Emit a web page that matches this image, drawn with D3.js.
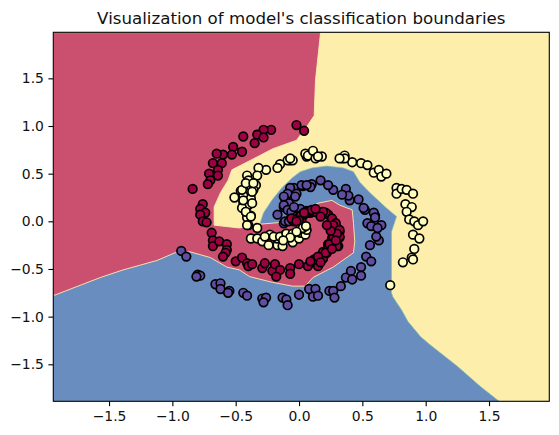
<!DOCTYPE html>
<html><head><meta charset="utf-8">
<script src="https://cdnjs.cloudflare.com/ajax/libs/d3/7.8.5/d3.min.js"></script>
<style>html,body{margin:0;padding:0;background:#fff}svg{display:block}</style>
</head><body><div id="c"></div>
<script>
const chartTitle = "Visualization of model's classification boundaries";
const xTicks = [-1.5,-1.0,-0.5,0,0.5,1.0,1.5];
const yTicks = [-1.5,-1.0,-0.5,0,0.5,1.0,1.5];
const xRange = [-1.94,1.976];
const yRange = [-1.888,1.983];

// decision regions (boundary vertices in data units)
const redRegion = [[-1.94,1.98],[.17,1.98],[.13,1.48],[.12,1.11],[.07,1.01],[-.02,.85],[-.21,.76],[-.31,.69],[-.53,.54],[-.56,.43],[-.62,.30],[-.67,.15],[-.67,-.04],[-.47,-.07],[-.31,-.03],[-.13,-.01],[-.03,.07],[.06,.14],[.15,.19],[.26,.22],[.32,.17],[.42,.12],[.43,-.02],[.44,-.21],[.43,-.33],[.27,-.48],[.11,-.59],[.05,-.68],[-.05,-.68],[-.21,-.64],[-.39,-.58],[-.47,-.51],[-.57,-.48],[-.70,-.38],[-.86,-.32],[-.98,-.33],[-1.12,-.41],[-1.39,-.51],[-1.57,-.59],[-1.94,-.78]];
const blueRegion = [[-1.94,-1.888],[1.58,-1.888],[1.43,-1.73],[1.25,-1.52],[1.03,-1.29],[.96,-1.21],[.86,-1.05],[.81,-.93],[.74,-.79],[.73,-.75],[.73,-.11],[.77,.05],[.69,.14],[.56,.30],[.48,.41],[.43,.52],[.35,.56],[.22,.58],[.10,.56],[.01,.52],[-.05,.46],[-.13,.36],[-.21,.23],[-.28,.09],[-.31,-.03],[-.23,-.14],[-1.94,-.40]];

// class points
const yellowPts = [[-.07,.64],[-.09,.64],[-.15,.60],[-.17,.56],[-.26,.54],[-.32,.56],[-.41,.48],[-.33,.48],[-.40,.43],[-.34,.38],[-.38,.37],[-.46,.32],[-.36,.33],[-.44,.27],[-.51,.25],[-.38,.24],[-.44,.20],[-.40,.17],[-.45,.14],[-.42,.10],[-.38,.06],[-.41,.04],[-.40,-.04],[.06,.68],[.05,.71],[-.05,.64],[-.07,.66],[.07,.69],[.11,.74],[.13,.66],[.18,.68],[.15,.68],[.34,.66],[.36,.69],[.42,.62],[.49,.61],[.54,.59],[.59,.51],[.63,.54],[.65,.47],[.69,.50],[.77,.35],[.77,.29],[.81,.34],[.85,.33],[.90,.29],[.84,.18],[.89,.15],[.85,.10],[.87,.02],[.91,0],[.94,-.04],[.98,0],[.90,-.14],[.95,-.18],[.91,-.29],[.89,-.38],[.82,-.43],[.90,-.40],[.72,-.67],[.36,.66],[.32,.66],[-.41,-.04],[-.33,-.07],[-.38,-.18],[-.33,-.18],[-.29,-.21],[-.24,-.25],[-.17,-.25],[-.13,-.26],[-.23,-.14],[-.17,-.18],[-.11,-.14],[-.05,-.22],[0,-.18],[.01,-.12],[.05,-.14],[.06,-.09],[-.06,-.14],[-.27,-.16],[-.20,-.16],[-.45,.33],[-.42,.40],[-.36,.40],[-.37,.31],[-.44,.22],[-.37,.19],[-.42,.10],[-.38,.05],[-.15,-.16],[-.10,-.13],[-.05,-.13],[.01,-.08],[.03,-.07],[.055,-.05],[-.02,-.11],[-.07,-.17],[-.125,-.20]];
const purplePts = [[-.93,-.31],[-.89,-.37],[-.80,-.56],[-.78,-.57],[-.81,-.58],[-.66,-.66],[-.62,-.65],[-.62,-.71],[-.55,-.73],[-.56,-.75],[-.44,-.75],[-.41,-.78],[-.29,-.81],[-.26,-.80],[-.28,-.85],[-.13,-.80],[-.10,-.82],[-.09,-.88],[0,-.77],[.09,-.72],[.08,-.71],[.13,-.71],[.11,-.79],[.15,-.78],[.24,-.73],[.27,-.73],[.28,-.80],[.33,-.68],[.37,-.59],[.41,-.52],[.42,-.61],[.49,-.48],[.49,-.57],[.53,-.37],[.57,-.42],[.56,-.25],[.63,-.20],[.61,-.16],[.65,-.04],[.60,.06],[.54,-.02],[.57,-.05],[.62,-.07],[.52,.12],[.51,.14],[.47,.23],[.40,.22],[.37,.34],[.39,.27],[.34,.28],[.27,.33],[.23,.38],[.17,.43],[.10,.39],[.03,.37],[-.04,.35],[.09,.36],[.59,.09],[.60,.04],[.02,.38],[-.07,.35],[-.11,.24],[-.12,.15],[-.17,.07],[-.12,-.02],[-.08,.19],[-.09,.29],[-.02,.29],[.06,.38],[-.12,.26],[-.12,.17],[-.09,.12],[-.06,.05],[-.01,.05],[-.03,.03],[.02,.08],[-.06,.10],[.01,.13],[-.04,.15],[-.03,.26],[-.11,0],[-.08,0],[-.05,.01],[-.02,.02],[.01,.03]];
const redPts = [[-.02,1.01],[.04,.95],[-.22,.96],[-.28,.96],[-.33,.91],[-.28,.88],[-.35,.82],[-.44,.89],[-.52,.78],[-.45,.73],[-.53,.70],[-.60,.70],[-.65,.71],[-.61,.61],[-.68,.61],[-.64,.54],[-.71,.50],[-.64,.48],[-.70,.43],[-.72,.39],[-.84,.34],[-.76,.18],[-.78,.13],[-.74,.09],[-.78,.07],[-.76,0],[-.73,-.01],[-.69,-.12],[-.68,-.20],[-.68,-.26],[-.63,-.21],[-.57,-.24],[-.57,-.30],[-.58,-.33],[-.60,-.37],[-.50,-.42],[-.45,-.38],[-.41,-.44],[-.40,-.47],[-.37,-.45],[-.29,-.49],[-.27,-.44],[-.21,-.52],[-.19,-.45],[-.15,-.51],[-.18,-.58],[-.07,-.49],[-.07,-.55],[0,-.45],[.07,-.47],[.15,-.47],[.12,-.40],[.19,-.38],[.19,-.32],[.22,-.31],[.23,-.24],[.31,-.26],[.26,-.18],[.32,-.17],[.32,-.11],[.27,-.12],[.28,-.07],[.06,.11],[.12,.10],[.18,.10],[.23,.07],[.27,0],[.30,-.07],[.32,-.16],[.30,-.26],[.23,-.25],[.22,-.33],[.19,-.39],[.13,-.40],[0,.03],[.04,.07],[.09,.09],[.15,.09],[.21,.09],[.26,.03],[.29,-.02],[-.04,0],[.07,.09],[.13,.10],[.19,.10],[.27,-.04],[.32,-.09],[.27,-.16],[.24,-.24],[.21,-.33],[.15,-.37],[-.02,.05],[.02,.02],[-.06,.03],[.01,.05],[.03,.08],[.055,.10],[.08,.11],[.10,.12],[.13,.13],[-.015,.025],[.015,.06],[.04,.09],[0,.01],[-.02,0],[.30,-.13],[.25,-.10],[.29,-.20],[.26,-.29],[.17,-.43],[.09,-.42],[.22,-.04],[.17,.05]];

const W = 559, H = 435;
const x = d3.scaleLinear().domain(xRange).range([53.3,549.3]);
const y = d3.scaleLinear().domain(yRange).range([401.3,32.3]);
const svg = d3.select('#c').append('svg').attr('width',W).attr('height',H);
svg.append('defs').append('clipPath').attr('id','plot').append('rect')
  .attr('x',x.range()[0]).attr('y',y.range()[1])
  .attr('width',x.range()[1]-x.range()[0]).attr('height',y.range()[0]-y.range()[1]);
const plot = svg.append('g').attr('clip-path','url(#plot)');
plot.append('rect').attr('x',x.range()[0]).attr('y',y.range()[1])
  .attr('width',x.range()[1]-x.range()[0]).attr('height',y.range()[0]-y.range()[1])
  .attr('fill','#feeeab');
const line = d3.line().x(d=>x(d[0])).y(d=>y(d[1])).curve(d3.curveLinearClosed);
plot.append('path').attr('d',line(blueRegion)).attr('fill','#6a8dbf').attr('stroke','#7fc0b5').attr('stroke-width',0.7);
plot.append('path').attr('d',line(redRegion)).attr('fill','#cb506f').attr('stroke','#fdeeb0').attr('stroke-width',0.9);

const classes = [[purplePts,'#5e4fa2'],[redPts,'#9e0142'],[yellowPts,'#ffffbf']];
classes.forEach(([pts,col])=>{
  svg.append('g').selectAll('circle').data(pts).join('circle')
    .attr('cx',d=>x(d[0])).attr('cy',d=>y(d[1])).attr('r',4.3)
    .attr('fill',col).attr('stroke','#000').attr('stroke-width',1.7);
});

const fmt = d=> (d<0?'\u2212':'')+Math.abs(d).toFixed(1);
const styleAxis = g=>{
  g.selectAll('.domain').remove();
  g.selectAll('line').attr('stroke','#000').attr('stroke-width',1.1);
  g.selectAll('text').attr('fill','#111').attr('font-family','DejaVu Sans').attr('font-size',13.9);
};
svg.append('g').attr('transform',`translate(0,${y.range()[0]})`)
  .call(d3.axisBottom(x).tickValues(xTicks).tickFormat(fmt).tickSize(4.9).tickPadding(4.5)).call(styleAxis);
svg.append('g').attr('transform',`translate(${x.range()[0]},0)`)
  .call(d3.axisLeft(y).tickValues(yTicks).tickFormat(fmt).tickSize(4.9).tickPadding(4.5)).call(styleAxis);
svg.append('rect').attr('x',x.range()[0]).attr('y',y.range()[1])
  .attr('width',x.range()[1]-x.range()[0]).attr('height',y.range()[0]-y.range()[1])
  .attr('fill','none').attr('stroke','#000').attr('stroke-width',1.1);
svg.append('text').text(chartTitle).attr('x',(x.range()[0]+x.range()[1])/2).attr('y',24)
  .attr('text-anchor','middle').attr('font-family','DejaVu Sans').attr('font-size',16.67).attr('fill','#111');
</script></body></html>
